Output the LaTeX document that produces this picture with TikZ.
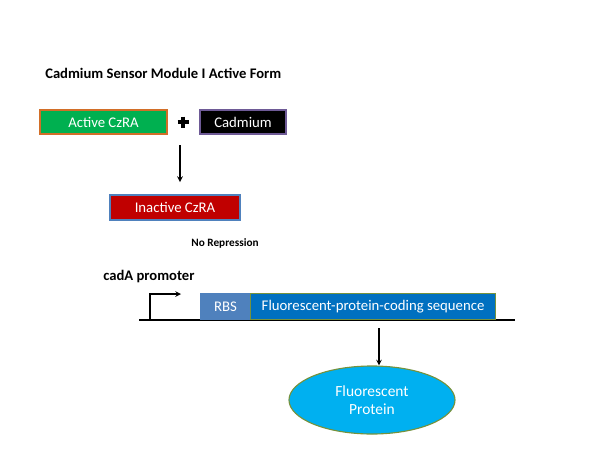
\documentclass[tikz,border=0pt]{standalone}
\usepackage{fontspec}
\setmainfont{Carlito}
\usetikzlibrary{shapes.geometric}

\definecolor{czgreen}{RGB}{0,176,80}
\definecolor{czorange}{RGB}{210,110,40}
\definecolor{cdpurple}{RGB}{110,90,150}
\definecolor{czred}{RGB}{192,0,0}
\definecolor{steel}{RGB}{79,129,189}
\definecolor{codeblue}{RGB}{0,112,192}
\definecolor{olive}{RGB}{118,146,60}
\definecolor{fpcyan}{RGB}{0,176,240}

\tikzset{
    box/.style={draw, line width=0.8pt, text=white, inner sep=0pt, font=\fontsize{10.5}{12}\selectfont},
    label/.style={font=\bfseries\fontsize{10.4}{12}\selectfont, inner sep=0pt},
    arr/.style={->, >=stealth, line width=0.8pt}
}

\begin{document}
\begin{tikzpicture}[x=0.025cm, y=-0.025cm]

    \useasboundingbox (0,0) rectangle (600,450);

    %% Title
    \node[label, anchor=west] (title) at (45,73) {Cadmium Sensor Module I Active Form};

    %% Reaction
    \begin{scope}
        % Active repressor and metal
        \node[box, fill=czgreen, draw=czorange, minimum width=3.175cm, minimum height=0.6cm] (active) at (103.5,122) {Active CzRA};
        \coordinate (plus) at (183,122);
        \draw[line width=2.4pt] (plus) ++(-5.5,0) -- ++(11,0) (plus) ++(0,-5.5) -- ++(0,11);
        \node[box, fill=black, draw=cdpurple, minimum width=2.15cm, minimum height=0.6cm] (cadmium) at (243,122) {Cadmium};

        % Product
        \node[box, fill=czred, draw=steel, minimum width=3.25cm, minimum height=0.625cm] (inactive) at (175,207.5) {Inactive CzRA};
        \coordinate (react) at (180,145);
        \draw[arr] (react) -- ++(0,37);

        \node[label, font=\bfseries\fontsize{8}{9}\selectfont] (norep) at (225,243) {No Repression};
    \end{scope}

    %% Gene
    \begin{scope}
        \node[label, anchor=west] (promlabel) at (103,277) {cadA promoter};

        % DNA strand
        \coordinate (dnaL) at (139,320);
        \coordinate (dnaR) at (515,320);
        \draw[line width=0.8pt] (dnaL) -- (dnaR);

        % Promoter arrow
        \coordinate (tss) at (150,320);
        \draw[arr] (tss) -- ++(0,-26) -- ++(31,0);

        % Parts
        \node[box, fill=steel, draw=steel, minimum width=1.25cm, minimum height=0.65cm, anchor=south west] (rbs) at (200,320) {RBS};
        \node[box, fill=codeblue, draw=olive, minimum width=6.125cm, minimum height=0.65cm, anchor=south west] (cds) at (250,320) {Fluorescent-protein-coding sequence};

        % Expression
        \node[box, ellipse, fill=fpcyan, draw=olive, minimum width=4.15cm, minimum height=1.7cm, align=center, font=\fontsize{11}{13}\selectfont] (fp) at (372,400) {Fluorescent\\Protein};
        \coordinate (expr) at (379,328);
        \draw[arr] (expr) -- (expr |- fp.north);
    \end{scope}

\end{tikzpicture}
\end{document}
